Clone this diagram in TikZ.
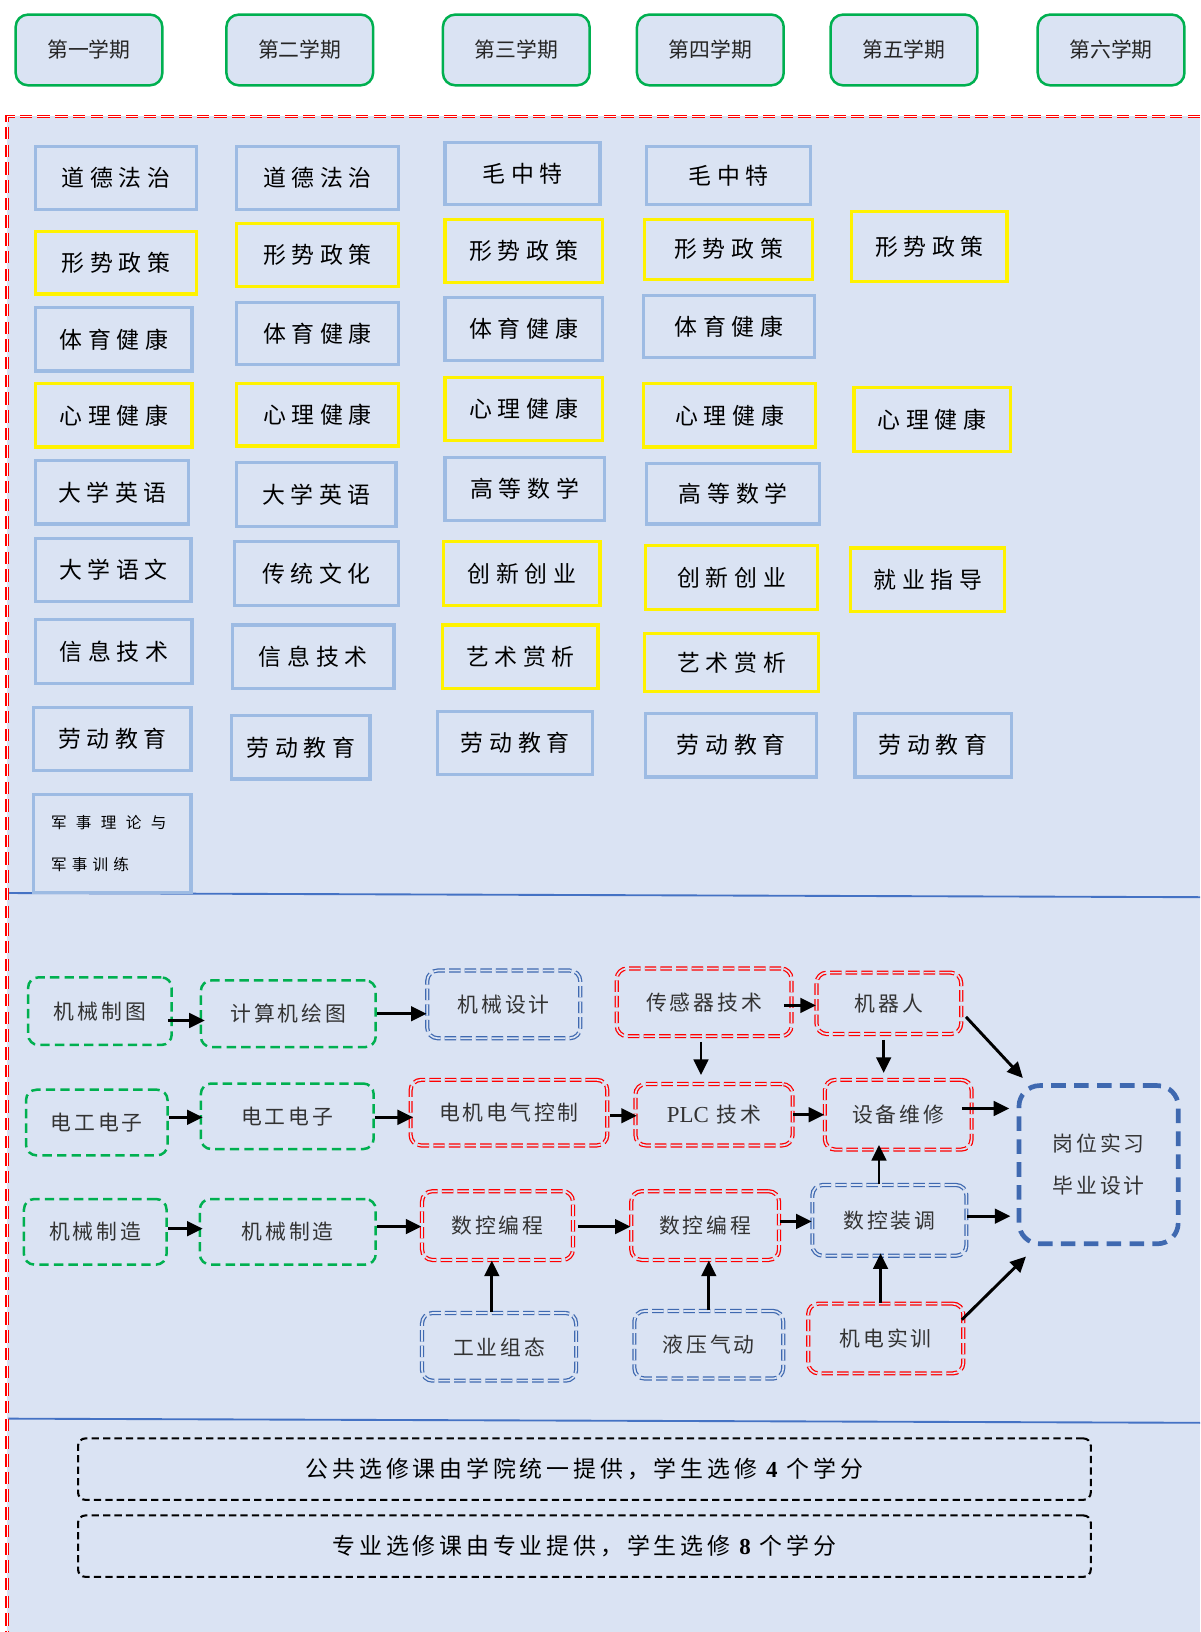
\documentclass[tikz,border=0pt]{standalone}
\usepackage{fontspec}
\usepackage{tikz}
\usetikzlibrary{arrows.meta}
\newfontfamily\cjk{Noto Sans CJK SC}
\newfontfamily\cjkpub[LetterSpace=25]{Noto Sans CJK SC}
\newfontfamily\cjkpro[LetterSpace=14]{Noto Sans CJK SC}
\newfontfamily\cjkopt[LetterSpace=17]{Noto Sans CJK SC}
\newfontfamily\latinserif{Liberation Serif}
\definecolor{bgblue}{HTML}{DAE3F3}
\definecolor{lineblue}{HTML}{9DBBE3}
\definecolor{termgreen}{HTML}{00B050}
\definecolor{darkblue}{HTML}{3F69B0}
\definecolor{rulerblue}{HTML}{4472C4}
\begin{document}
\begin{tikzpicture}[x=1pt,y=-1pt,>={Triangle[length=15pt,width=14pt]},
  dims/.style 2 args={minimum width=#1pt,minimum height=#2pt},
  term node/.style={draw=termgreen,line width=2.4pt,rounded corners=12pt,fill=bgblue,inner sep=0pt,
    text=black!85,font=\cjk\fontsize{20}{24}\selectfont,dims={141}{68}},
  blue course/.style={draw=lineblue,line width=3pt,inner sep=0pt,font=\cjkpub\fontsize{22}{26}\selectfont},
  yellow course/.style={blue course,draw=yellow},
  pro node/.style={rounded corners=10pt,inner sep=0pt,text=black!80,font=\cjkpro\fontsize{20}{24}\selectfont},
  green pro/.style={pro node,draw=termgreen,line width=2.4pt,dash pattern=on 9pt off 5pt},
  red pro/.style={pro node,draw=red,double=bgblue,line width=1.2pt,double distance=1.6pt,dash pattern=on 11pt off 4pt},
  blue pro/.style={red pro,draw=darkblue},
  option box/.style={draw=black,line width=2pt,dash pattern=on 7pt off 4pt,rounded corners=7pt,dims={973}{59},
    font=\cjkopt\fontsize{22}{26}\selectfont},
  link/.style={->,line width=2.8pt}]

  \useasboundingbox[fill=white] (0,0) rectangle (1153,1568);
  \fill[bgblue] (7,111) rectangle (1153,1568);
  \draw[rulerblue,line width=1.8pt] (8,858) -- (1153,862);
  \draw[rulerblue,line width=1.8pt] (8,1363) -- (1153,1367);
  \draw[red,double=white,line width=1.1pt,double distance=1.5pt,dash pattern=on 12pt off 5pt]
    (1153,112) -- (7,112) -- (7,1568);

  \node[term node] (t1) at (85.5,48) {第一学期};
  \node[term node] (t2) at (288,48) {第二学期};
  \node[term node] (t3) at (496,48) {第三学期};
  \node[term node] (t4) at (682.5,48) {第四学期};
  \node[term node] (t5) at (868.5,48) {第五学期};
  \node[term node] (t6) at (1067.5,48) {第六学期};

  \node[blue course,dims={154}{61}] (p11) at (111.5,171) {道德法治};
  \node[yellow course,dims={154}{60}] (p12) at (111.5,252.5) {形势政策};
  \node[blue course,dims={150}{61}] (p13) at (109.5,326) {体育健康};
  \node[yellow course,dims={150}{61}] (p14) at (109.5,399) {心理健康};
  \node[blue course,dims={147}{61}] (p15) at (108,473) {大学英语};
  \node[blue course,dims={149}{60}] (p16) at (109,547.5) {大学语文};
  \node[blue course,dims={150}{61}] (p17) at (109.5,626) {信息技术};
  \node[blue course,dims={151}{61}] (p18) at (108,710) {劳动教育};
  \node[blue course,dims={151}{94},text width=118pt,align=left,inner xsep=16pt,
    font=\cjk\fontsize{15}{40}\selectfont] (p19) at (108,810.5)
    {军\hspace{9pt}事\hspace{9pt}理\hspace{9pt}论\hspace{9pt}与\\军\hspace{5pt}事\hspace{5pt}训\hspace{5pt}练};

  \node[blue course,dims={155}{61}] (p21) at (305,171) {道德法治};
  \node[yellow course,dims={155}{61}] (p22) at (305,245) {形势政策};
  \node[blue course,dims={155}{60}] (p23) at (305,320.5) {体育健康};
  \node[yellow course,dims={155}{60}] (p24) at (305,398.5) {心理健康};
  \node[blue course,dims={153}{61}] (p25) at (304,475) {大学英语};
  \node[blue course,dims={157}{61}] (p26) at (304,551) {传统文化};
  \node[blue course,dims={155}{61}] (p27) at (301,631) {信息技术};
  \node[blue course,dims={133}{61}] (p28) at (289,718) {劳动教育};

  \node[blue course,dims={149}{60}] (p31) at (502,166.5) {毛中特};
  \node[yellow course,dims={151}{61}] (p32) at (503,241) {形势政策};
  \node[blue course,dims={151}{61}] (p33) at (503,316) {体育健康};
  \node[yellow course,dims={151}{61}] (p34) at (503,393) {心理健康};
  \node[blue course,dims={153}{61}] (p35) at (504,470) {高等数学};
  \node[yellow course,dims={150}{61}] (p36) at (501.5,551) {创新创业};
  \node[yellow course,dims={149}{61}] (p37) at (500,631) {艺术赏析};
  \node[blue course,dims={149}{61}] (p38) at (495,714) {劳动教育};

  \node[blue course,dims={157}{56}] (p41) at (700,168.5) {毛中特};
  \node[yellow course,dims={161}{58}] (p42) at (700,239.5) {形势政策};
  \node[blue course,dims={164}{60}] (p43) at (700.5,313.5) {体育健康};
  \node[yellow course,dims={165}{61}] (p44) at (701,399) {心理健康};
  \node[blue course,dims={166}{58}] (p45) at (704.5,474.5) {高等数学};
  \node[yellow course,dims={165}{61}] (p46) at (703,555) {创新创业};
  \node[yellow course,dims={167}{56}] (p47) at (703,636.5) {艺术赏析};
  \node[blue course,dims={164}{61}] (p48) at (702.5,716) {劳动教育};

  \node[yellow course,dims={149}{67}] (p52) at (893,237) {形势政策};
  \node[yellow course,dims={150}{61}] (p54) at (895.5,403) {心理健康};
  \node[yellow course,dims={148}{61}] (p56) at (891.5,557) {就业指导};
  \node[blue course,dims={150}{61}] (p58) at (896.5,716) {劳动教育};

  \node[green pro,dims={138}{65}] (a1) at (96,971.5) {机械制图};
  \node[green pro,dims={168}{64}] (a2) at (277,974) {计算机绘图};
  \node[blue pro,dims={147}{65}] (a3) at (484,965) {机械设计};
  \node[red pro,dims={168}{65}] (a4) at (676.5,963) {传感器技术};
  \node[red pro,dims={139}{59}] (a5) at (854,964) {机器人};

  \node[green pro,dims={136}{63}] (b1) at (93,1078.5) {电工电子};
  \node[green pro,dims={166}{63}] (b2) at (276,1072.5) {电工电子};
  \node[red pro,dims={189}{63}] (b3) at (489,1069) {电机电气控制};
  \node[red pro,dims={151}{59}] (b4) at (686,1071) {{\latinserif\fontsize{22}{26}\selectfont PLC} 技术};
  \node[red pro,dims={141}{67}] (b5) at (863,1071) {设备维修};
  \node[pro node,draw=darkblue,line width=4.5pt,dash pattern=on 14pt off 8pt,rounded corners=20pt,
    dims={153}{152},align=center,font=\cjkpro\fontsize{20}{40}\selectfont] (z) at (1055.5,1119) {岗位实习\\毕业设计};

  \node[green pro,dims={137}{63}] (c1) at (91.5,1183.5) {机械制造};
  \node[green pro,dims={169}{63}] (c2) at (276.5,1183.5) {机械制造};
  \node[red pro,dims={145}{66}] (c3) at (478,1177.5) {数控编程};
  \node[red pro,dims={142}{66}] (c4) at (677.5,1177.5) {数控编程};
  \node[blue pro,dims={148}{68}] (c5) at (854.5,1172.5) {数控装调};

  \node[blue pro,dims={148}{65}] (d1) at (479.5,1294) {工业组态};
  \node[blue pro,dims={143}{65}] (d2) at (681,1292) {液压气动};
  \node[red pro,dims={149}{67}] (d3) at (851,1286) {机电实训};

  \node[option box] (e1) at (561.5,1411.5) {公共选修课由学院统一提供，学生选修 {\latinserif\bfseries 4} 个学分};
  \node[option box] (e2) at (561.5,1485.5) {专业选修课由专业提供，学生选修 {\latinserif\bfseries 8} 个学分};

\draw [link] ([xshift=-5pt,yshift=-9pt]a1.east) -- ([xshift=5pt,yshift=-9pt]a1.east -| a2.west);
\draw [link] (a2.east) -- (a2.east -| a3.west);
\draw [link] ([xshift=-8pt,yshift=-3pt]a4.east) -- ([yshift=-3pt]a4.east -| a5.west);
\draw [link] ([xshift=-3pt,yshift=-5pt]a4.south) -- ([xshift=-3pt,yshift=8pt]a4.south |- b4.north);
\draw [link] ([xshift=-5pt,yshift=-5pt]a5.south) -- ([xshift=-5pt,yshift=6pt]a5.south |- b5.north);
\draw [link] ([shift={(4pt,-13pt)}]a5.east) -- ([shift={(6pt,5pt)}]z.north west);
\draw [link] ([yshift=5pt]b1.east) -- ([xshift=3pt,yshift=5pt]b1.east -| b2.west);
\draw [link] ([yshift=-1pt]b2.east) -- ([xshift=3pt,yshift=-1pt]b2.east -| b3.west);
\draw [link] ([xshift=2pt,yshift=-3pt]b3.east) -- ([xshift=2pt,yshift=-3pt]b3.east -| b4.west);
\draw [link] (b4.east) -- (b4.east -| b5.west);
\draw [link] ([xshift=-10pt,yshift=6pt]b5.east) -- ([xshift=-7pt,yshift=6pt]b5.east -| z.west);
\draw [link] ([yshift=3pt]c1.east) -- ([xshift=4pt,yshift=3pt]c1.east -| c2.west);
\draw [link] ([yshift=5pt]c2.east) -- ([yshift=5pt]c2.east -| c3.west);
\draw [link] ([xshift=4pt,yshift=-1pt]c3.east) -- ([yshift=-1pt]c3.east -| c4.west);
\draw [link] ([yshift=4pt]c4.east) -- ([yshift=4pt]c4.east -| c5.west);
\draw [link] ([xshift=-10pt]c5.north) -- ([xshift=-10pt,yshift=5pt]c5.north |- b5.south);
\draw [link] ([yshift=4pt]c5.east) -- ([xshift=-6pt,yshift=4pt]c5.east -| z.west);
\draw [link] ([xshift=-7pt]d1.north) -- ([xshift=-7pt]d1.north |- c3.south);
\draw [link] (d2.north) -- (d2.north |- c4.south);
\draw [link] ([xshift=-5pt]d3.north) -- ([xshift=-5pt,yshift=3pt]d3.north |- c5.south);
\draw [link] ([shift={(-2pt,18pt)}]d3.east) -- ([shift={(9pt,-10pt)}]z.south west);
\end{tikzpicture}
\end{document}
